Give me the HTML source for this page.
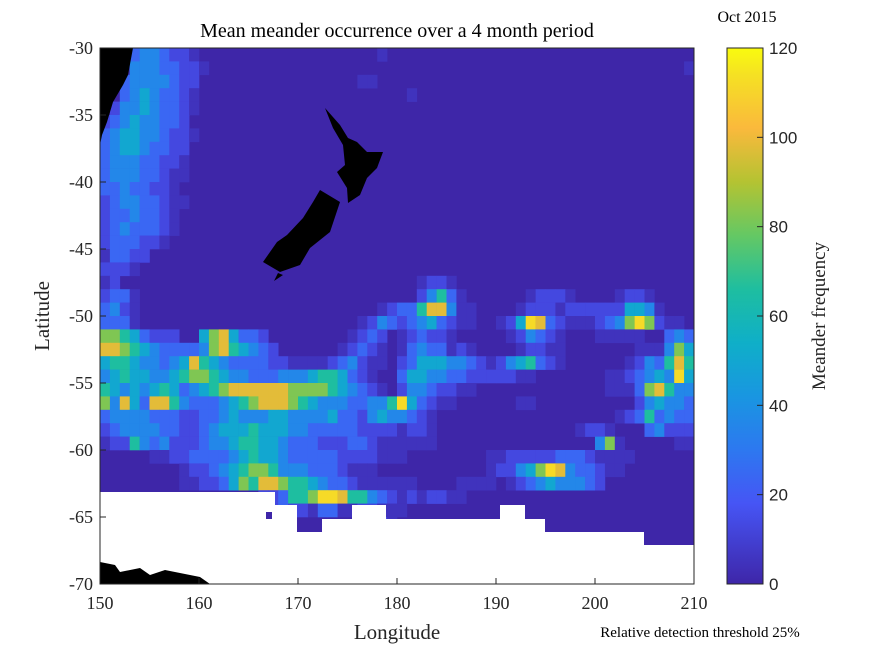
<!DOCTYPE html>
<html><head><meta charset="utf-8"><style>
body{margin:0;background:#fff;width:875px;height:656px;overflow:hidden}
svg{display:block}
.serif{font-family:"Liberation Serif",serif}
.sans{font-family:"Liberation Sans",sans-serif}
</style></head><body>
<svg id="chart" width="875" height="656" xmlns="http://www.w3.org/2000/svg">
<defs>
<linearGradient id="cbg" x1="0" y1="1" x2="0" y2="0">
<stop offset="0" stop-color="rgb(62,38,168)"/><stop offset="0.15" stop-color="rgb(70,85,245)"/>
<stop offset="0.25" stop-color="rgb(45,120,240)"/><stop offset="0.35" stop-color="rgb(25,150,225)"/>
<stop offset="0.45" stop-color="rgb(15,175,200)"/><stop offset="0.55" stop-color="rgb(30,190,160)"/>
<stop offset="0.65" stop-color="rgb(100,200,100)"/><stop offset="0.75" stop-color="rgb(180,195,50)"/>
<stop offset="0.85" stop-color="rgb(250,185,60)"/><stop offset="0.95" stop-color="rgb(245,225,35)"/>
<stop offset="1" stop-color="rgb(249,251,14)"/>
</linearGradient>
<clipPath id="pc"><rect x="100" y="48" width="594" height="536"/></clipPath>
</defs>
<rect x="100" y="48" width="594" height="536" fill="rgb(62,38,168)"/>
<g id="cells" clip-path="url(#pc)"></g>
<g clip-path="url(#pc)">
<path d="M100,492 L275,492 L275,505 L297,505 L297,532 L322,532 L322,519 L352,519 L352,505 L386,505 L386,519 L500,519 L500,505 L525,505 L525,519 L545,519 L545,532 L644,532 L644,545 L694,545 L694,584 L100,584 Z" fill="#fff"/>
<rect x="266" y="512" width="6" height="7" fill="rgb(62,38,168)"/>
<path d="M100,48 L133,48 L128,75 L123,85 L113,102 L107,122 L102,135 L100,145 Z" fill="#000"/>
<path d="M325,108 L340,125 L348,138 L357,142 L367,152 L383,152 L377,168 L367,178 L360,195 L348,203 L347,188 L337,172 L345,165 L343,145 L333,128 Z" fill="#000"/>
<path d="M320,190 L340,202 L330,232 L310,248 L300,265 L280,272 L263,262 L277,242 L287,235 L303,218 L313,202 Z" fill="#000"/>
<path d="M274,281 L278,273 L283,275 Z" fill="#000"/>
<path d="M100,562 L115,565 L120,572 L140,568 L150,575 L165,570 L200,577 L210,584 L100,584 Z" fill="#000"/>
</g>
<rect x="100" y="48" width="594" height="536" fill="none" stroke="#262626" stroke-width="1"/>
<g id="axes"></g>
<text class="serif" x="397" y="37" font-size="20" text-anchor="middle" fill="#000">Mean meander occurrence over a 4 month period</text>
<text class="serif" x="747" y="22" font-size="16" text-anchor="middle" fill="#000">Oct 2015</text>
<text class="serif" x="397" y="639" font-size="21" text-anchor="middle" fill="#262626">Longitude</text>
<text class="serif" transform="translate(49,316) rotate(-90)" font-size="21" text-anchor="middle" fill="#262626">Latitude</text>
<text class="serif" x="700" y="637" font-size="15" text-anchor="middle" fill="#000">Relative detection threshold 25%</text>
<rect x="727" y="48" width="36" height="536" fill="url(#cbg)" stroke="#262626" stroke-width="1"/>
<g id="cbaxis"></g>
<text class="serif" transform="translate(825,316) rotate(-90)" font-size="19" text-anchor="middle" fill="#262626">Meander frequency</text>
</svg>
<script>
const lonStart = 150, latStart = -30;
const levelValues = [0, 5, 13, 24, 36, 50, 66, 82, 98, 112];
const gridRows = [
"0003443221 0000000000 0000000010 0",
"0004443322 1000000000 0000000000 0000000000 0000000000 0000000001",
"0034444322 0000000000 0000001100",
"0034543321 0000000000 0000000000 01",
"0244543321",
"2345443320",
"3455443221",
"3455433220",
"3444332210",
"3444332110",
"3343322100",
"2344332110",
"2334332100",
"2343332100",
"2333221000",
"1332200000",
"2221000000",
"1200000000 0000000000 0000000000 0012210000 0000000000 0000000000",
"2331000000 0000000000 0000000000 0024631000 0001222100 0012210000",
"3421000000 0000000000 0000000012 3368841100 0012221222 2225541000",
"3331000000 0000000000 0000001243 2345321100 1259832111 2347972110",
"7765322200 5785332000 0000012320 1232210000 0124321000 1111100343",
"8876543333 4786543200 0000123210 1343312100 0012211000 0000111475",
"5665443458 6543333221 1112342110 2355544321 2456321000 0001243686",
"4565544567 7654433344 4566532100 3554433222 2211000000 0112345495",
"6545456534 5678888887 7776543210 2443221100 0000000000 0111378644",
"7485388643 3345678887 6544433446 9532110000 0011000000 0000245443",
"3444433322 3345444554 4445332454 4321000000 0000000000 0012363433",
"2344443322 3455565554 4333332222 1221000000 0000000012 2100034222",
"1226434222 3445665543 3322233211 1111000000 0000000000 4710000011",
"0000011223 3334565543 3333222211 1000000001 1222223332 1111000000",
"0000000012 2345677644 4333211100 0000000001 2245798433 2110000000",
"0000000011 2235768876 6543321111 1100001111 0123454443 2000000000",
"0000000000 0000002236 6799866432 1212211000 0000000000 0000000000",
"0000000000 0000001232 2133112211 1000000000 0000000000 0000000000",
"0000000000 0000000000 0000000121 0000000000"
];
const xTicks = [150,160,170,180,190,200,210];
const yTicks = [-30,-35,-40,-45,-50,-55,-60,-65,-70];
const cbTicks = [0,20,40,60,80,100,120];

const X0=100, X1=694, Y0=48, Y1=584;
const xScale = lon => X0 + (lon-150)/60*(X1-X0);
const yScale = lat => Y0 + (-30-lat)/40*(Y1-Y0);
const cbScale = v => 584 - v/120*536;
const stops=[[0,62,38,168],[0.15,70,85,245],[0.25,45,120,240],[0.35,25,150,225],[0.45,15,175,200],[0.55,30,190,160],[0.65,100,200,100],[0.75,180,195,50],[0.85,250,185,60],[0.95,245,225,35],[1,249,251,14]];
function parula(t){t=Math.max(0,Math.min(1,t));for(let i=1;i<stops.length;i++){if(t<=stops[i][0]){const a=stops[i-1],b=stops[i],f=(t-a[0])/(b[0]-a[0]);return `rgb(${[1,2,3].map(k=>Math.round(a[k]+f*(b[k]-a[k]))).join(',')})`;}}return 'rgb(249,251,14)';}
const NS='http://www.w3.org/2000/svg';
const cells=document.getElementById('cells');
gridRows.forEach((row,i)=>{
  const r=row.replace(/ /g,'');
  for(let j=0;j<r.length;j++){
    const v=levelValues[parseInt(r[j],10)]; if(!v) continue;
    const x=xScale(lonStart+j), y=yScale(latStart-i);
    const rc=document.createElementNS(NS,'rect');
    rc.setAttribute('x',x);rc.setAttribute('y',y);
    rc.setAttribute('width',xScale(lonStart+j+1)-x+0.3);rc.setAttribute('height',yScale(latStart-i-1)-y+0.3);
    rc.setAttribute('fill',parula(v/120));
    
    
    cells.appendChild(rc);
  }
});
const ax=document.getElementById('axes');
function add(parent,tag,attrs,text){const e=document.createElementNS(NS,tag);for(const k in attrs)e.setAttribute(k,attrs[k]);if(text!==undefined)e.textContent=text;parent.appendChild(e);return e;}
xTicks.forEach(t=>{const x=xScale(t);
  const l=add(ax,'line',{x1:x,x2:x,y1:Y1,y2:Y1-6,stroke:'#262626'});
  
  
  const tx=add(ax,'text',{x:x,y:609,'font-size':18,'text-anchor':'middle',fill:'#262626','class':'serif'},t);
  
  
});
yTicks.forEach(t=>{const y=yScale(t);
  const l=add(ax,'line',{x1:X0,x2:X0+6,y1:y,y2:y,stroke:'#262626'});
  
  
  const tx=add(ax,'text',{x:93,y:y+6,'font-size':18,'text-anchor':'end',fill:'#262626','class':'serif'},t);
  
  
});
const cb=document.getElementById('cbaxis');
cbTicks.forEach(t=>{const y=cbScale(t);
  const l=add(cb,'line',{x1:757,x2:763,y1:y,y2:y,stroke:'#262626'});
  
  
  const tx=add(cb,'text',{x:769,y:y+6,'font-size':17,fill:'#262626','class':'sans'},t);
  
  
});
</script>
</body></html>
